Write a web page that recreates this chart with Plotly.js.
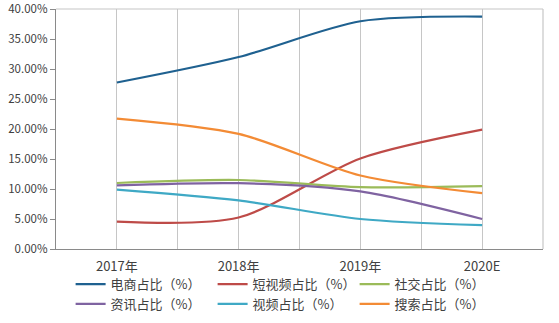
<!DOCTYPE html>
<html><head><meta charset="utf-8">
<script src="https://cdn.plot.ly/plotly-3.0.1.min.js"></script>
<style>html,body{margin:0;padding:0;background:#fff}#c{width:559px;height:323px}</style>
</head><body><div id="c"></div>
<script>
const categories = ["2017年", "2018年", "2019年", "2020E"];
const seriesNames = ["电商占比（%）", "短视频占比（%）", "社交占比（%）", "资讯占比（%）", "视频占比（%）", "搜索占比（%）"];
const ecommerce = [0.2775, 0.3200, 0.3797, 0.3875];
const shortVideo = [0.0458, 0.0525, 0.1510, 0.1990];
const social = [0.1100, 0.1150, 0.1030, 0.1047];
const news = [0.1060, 0.1097, 0.0960, 0.0500];
const video = [0.0990, 0.0810, 0.0500, 0.0397];
const search = [0.2175, 0.1920, 0.1225, 0.0930];
const colors = ["#1f6190", "#be4b48", "#9bbb59", "#7f63a1", "#3fa9c5", "#f38b35"];
const allSeries = [ecommerce, shortVideo, social, news, video, search];

const xIdx = categories.map((c, i) => i);
const traces = allSeries.map((s, i) => ({
  type: "scatter", mode: "lines", x: xIdx, y: s, name: seriesNames[i],
  line: {color: colors[i], width: 2.2, shape: "spline", smoothing: 0.8},
  hoverinfo: "skip"
}));

const layout = {
  width: 559, height: 323,
  margin: {l: 56, r: 16, t: 9, b: 74},
  paper_bgcolor: "#fff", plot_bgcolor: "#fff",
  font: {family: "'Noto Sans CJK SC', sans-serif", size: 12, color: "#404040"},
  showlegend: true,
  xaxis: {
    range: [-0.5, 3.5], tickmode: "array", tickvals: xIdx, ticktext: categories,
    showgrid: true, gridcolor: "#c6c6c6", gridwidth: 1.2,
    minor: {tickmode: "array", tickvals: [0.5, 1.5, 2.5], showgrid: true, gridcolor: "#c6c6c6", gridwidth: 1.2},
    showline: true, linecolor: "#8a8a8a", linewidth: 1.2, mirror: false,
    ticks: "outside", ticklen: 5, tickcolor: "rgba(0,0,0,0)",
    zeroline: false, fixedrange: true,
    tickfont: {size: 13, family: "'Noto Sans CJK SC', sans-serif", color: "#404040"}
  },
  yaxis: {
    range: [0, 0.4001], tickmode: "array", tickvals: [0, 0.05, 0.1, 0.15, 0.2, 0.25, 0.3, 0.35, 0.4], tickformat: ".2%",
    showgrid: false, zeroline: false, ticklabeloverflow: "allow",
    showline: true, linecolor: "#8a8a8a", linewidth: 1.2,
    ticks: "outside", ticklen: 5, tickcolor: "#8a8a8a",
    tickfont: {size: 11.5, family: "'Noto Sans CJK SC', sans-serif", color: "#404040"}
  },
  shapes: [
    {type: "line", xref: "paper", yref: "paper", x0: 0, x1: 1, y0: 1, y1: 1, line: {color: "#c6c6c6", width: 1.2}},
    {type: "line", xref: "paper", yref: "paper", x0: 1, x1: 1, y0: 0, y1: 1, line: {color: "#c6c6c6", width: 1.2}}
  ],
  legend: {
    orientation: "h", x: 0.03, y: 0.012, yref: "container", xanchor: "left", yanchor: "bottom",
    entrywidth: 97, entrywidthmode: "pixels", itemwidth: 30,
    tracegroupgap: 0, traceorder: "normal",
    font: {size: 13, family: "'Noto Sans CJK SC', sans-serif", color: "#404040"},
    bgcolor: "rgba(0,0,0,0)"
  }
};
Plotly.newPlot("c", traces, layout, {staticPlot: true, displayModeBar: false});
</script></body></html>
